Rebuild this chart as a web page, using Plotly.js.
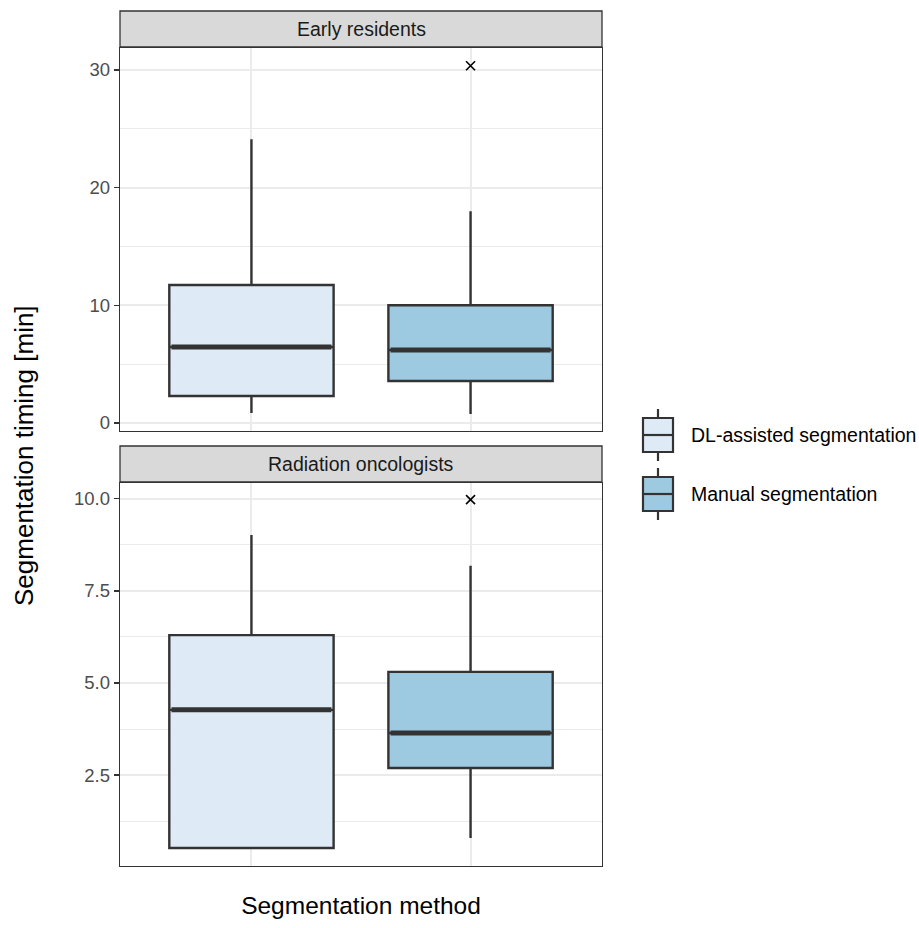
<!DOCTYPE html>
<html>
<head>
<meta charset="utf-8">
<script src="https://cdn.plot.ly/plotly-3.0.1.min.js"></script>
<style>html,body{margin:0;padding:0;background:#fff;}#chart{width:919px;height:928px;}</style>
</head>
<body>
<div id="chart"></div>
<script>
// ---- data ----
const groups = ["Early residents", "Radiation oncologists"];
const methods = ["DL-assisted segmentation", "Manual segmentation"];
const methodPos = [1, 2];
// Early residents: [DL, Manual]
const erQ1 = [2.29, 3.57];
const erMedian = [6.46, 6.2];
const erQ3 = [11.72, 10.0];
const erLower = [0.85, 0.76];
const erUpper = [24.1, 18.0];
const erOutlierX = [2];
const erOutlierY = [30.35];
// Radiation oncologists: [DL, Manual]
const roQ1 = [0.52, 2.69];
const roMedian = [4.27, 3.64];
const roQ3 = [6.30, 5.30];
const roLower = [0.52, 0.79];
const roUpper = [9.02, 8.18];
const roOutlierX = [2];
const roOutlierY = [9.98];
// y tick values
const erTicks = [0, 10, 20, 30];
const roTicks = [2.5, 5.0, 7.5, 10.0];

const fills = ["#DEEBF7", "#9ECAE1"];
const dark = "#333333";
const boxW = 0.75;
const FONT = "Liberation Sans, Arial, Helvetica, sans-serif";

const traces = [];
function addPanel(q1, med, q3, lo, up, ox, oy, xa, ya) {
  for (let i = 0; i < methods.length; i++) {
    traces.push({
      type: "box", name: methods[i], x: [methodPos[i]],
      q1: [q1[i]], median: [med[i]], q3: [q3[i]],
      lowerfence: [lo[i]], upperfence: [up[i]],
      boxpoints: false, width: boxW, whiskerwidth: 0,
      fillcolor: fills[i], line: {color: dark, width: 2.4},
      xaxis: xa, yaxis: ya, showlegend: false, hoverinfo: "skip"
    });
    traces.push({
      type: "scatter", mode: "lines",
      x: [methodPos[i] - boxW / 2 + 0.01, methodPos[i] + boxW / 2 - 0.01],
      y: [med[i], med[i]],
      line: {color: dark, width: 5},
      xaxis: xa, yaxis: ya, showlegend: false, hoverinfo: "skip"
    });
  }
  traces.push({
    type: "scatter", mode: "markers", x: ox, y: oy,
    marker: {symbol: "x-thin", size: 9, color: "#000", line: {color: "#000", width: 1.6}},
    xaxis: xa, yaxis: ya, showlegend: false, hoverinfo: "skip"
  });
}
addPanel(erQ1, erMedian, erQ3, erLower, erUpper, erOutlierX, erOutlierY, "x2", "y2");
addPanel(roQ1, roMedian, roQ3, roLower, roUpper, roOutlierX, roOutlierY, "x", "y");

// pixel -> paper helpers (plot area: x 120..602, y 48..866)
const L = 120, R = 602, T = 48, B = 866;
const px = v => (v - L) / (R - L);
const py = v => (B - v) / (B - T);

const shapes = [];
const annotations = [];
// facet strips
[[11, 47, groups[0]], [446, 482, groups[1]]].forEach(s => {
  shapes.push({type: "rect", xref: "paper", yref: "paper", x0: 0, x1: 1, y0: py(s[1]), y1: py(s[0]),
    fillcolor: "#D9D9D9", line: {color: dark, width: 1.3}, layer: "above"});
  annotations.push({xref: "paper", yref: "paper", x: 0.5, y: py((s[0] + s[1]) / 2), text: s[2],
    showarrow: false, xanchor: "center", yanchor: "middle",
    font: {family: FONT, size: 19.5, color: "#1A1A1A"}});
});
// legend (custom box glyphs)
[[435, 0], [494, 1]].forEach(g => {
  const cy = g[0], c = 658;
  shapes.push({type: "line", xref: "paper", yref: "paper", x0: px(c), x1: px(c), y0: py(cy - 26), y1: py(cy - 17), line: {color: dark, width: 2.2}});
  shapes.push({type: "line", xref: "paper", yref: "paper", x0: px(c), x1: px(c), y0: py(cy + 17), y1: py(cy + 26), line: {color: dark, width: 2.2}});
  shapes.push({type: "rect", xref: "paper", yref: "paper", x0: px(643), x1: px(673), y0: py(cy + 17), y1: py(cy - 17),
    fillcolor: fills[g[1]], line: {color: dark, width: 2.2}});
  shapes.push({type: "line", xref: "paper", yref: "paper", x0: px(643), x1: px(673), y0: py(cy), y1: py(cy), line: {color: dark, width: 2.2}});
  annotations.push({xref: "paper", yref: "paper", x: px(689), y: py(cy), text: methods[g[1]],
    showarrow: false, xanchor: "left", yanchor: "middle",
    font: {family: FONT, size: 19.5, color: "#000"}});
});

const yCommon = {
  showline: true, mirror: true, linecolor: dark, linewidth: 1.3,
  ticks: "outside", ticklen: 5, tickwidth: 1.3, tickcolor: dark,
  tickfont: {family: FONT, size: 18.5, color: "#4D4D4D"},
  showgrid: true, gridcolor: "#EBEBEB", gridwidth: 2, zeroline: false
};
const xCommon = {
  range: [0.4, 2.6], tickvals: methodPos, showticklabels: false, ticks: "",
  showline: true, mirror: true, linecolor: dark, linewidth: 1.3,
  showgrid: true, gridcolor: "#EBEBEB", gridwidth: 2, zeroline: false
};

const layout = {
  width: 919, height: 928,
  margin: {l: L, r: 919 - R, t: T, b: 928 - B},
  paper_bgcolor: "#fff", plot_bgcolor: "#fff",
  showlegend: false,
  xaxis: Object.assign({}, xCommon, {anchor: "y",
    title: {text: "Segmentation method", standoff: 30, font: {family: FONT, size: 24.5, color: "#000"}}}),
  xaxis2: Object.assign({}, xCommon, {anchor: "y2", matches: "x"}),
  yaxis: Object.assign({}, yCommon, {domain: [0, py(483)], range: [0.03, 10.43],
    tickvals: roTicks, ticktext: roTicks.map(v => v.toFixed(1)),
    minor: {dtick: 1.25, tick0: 0, showgrid: true, gridcolor: "#EBEBEB", gridwidth: 1, ticks: ""}}),
  yaxis2: Object.assign({}, yCommon, {domain: [py(431), 1], range: [-0.68, 31.86], anchor: "x2",
    tickvals: erTicks, ticktext: erTicks.map(String),
    minor: {dtick: 5, tick0: 0, showgrid: true, gridcolor: "#EBEBEB", gridwidth: 1, ticks: ""}}),
  shapes: shapes,
  annotations: annotations.concat([{
    xref: "paper", yref: "paper", x: px(24), y: py(456), text: "Segmentation timing [min]",
    textangle: -90, showarrow: false, xanchor: "center", yanchor: "middle",
    font: {family: FONT, size: 26, color: "#000"}}])
};

Plotly.newPlot("chart", traces, layout, {displayModeBar: false, staticPlot: true});
</script>
</body>
</html>
